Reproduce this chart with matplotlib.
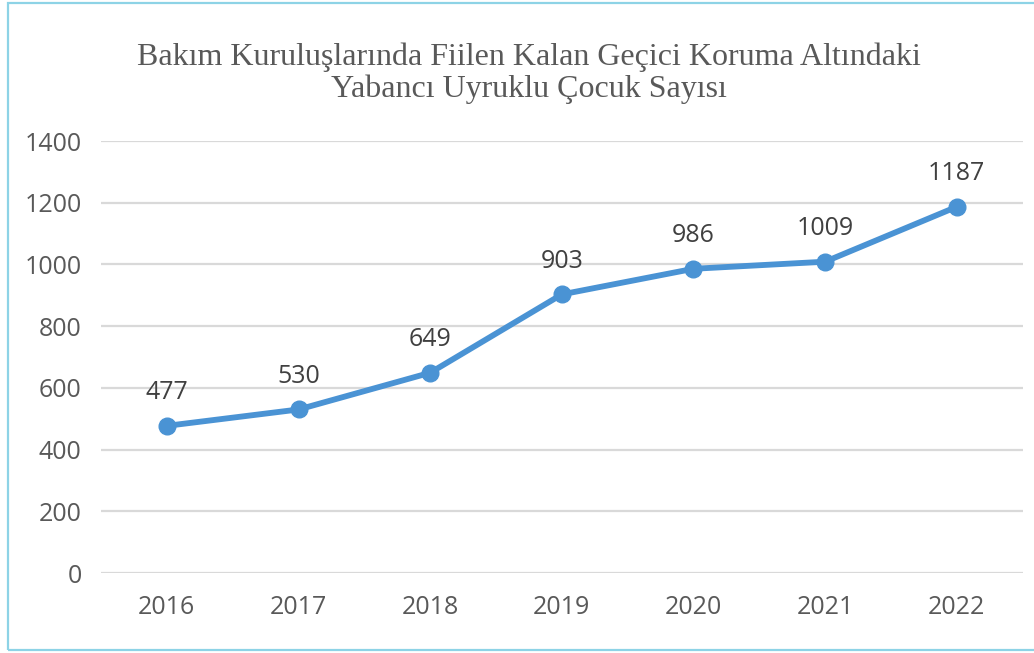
import matplotlib
matplotlib.use("Agg")
import matplotlib.pyplot as plt
from matplotlib.patches import Rectangle

# --- data ---
years = ["2016", "2017", "2018", "2019", "2020", "2021", "2022"]
counts = [477, 530, 649, 903, 986, 1009, 1187]
y_ticks = [0, 200, 400, 600, 800, 1000, 1200, 1400]

title = "Bakım Kuruluşlarında Fiilen Kalan Geçici Koruma Altındaki\nYabancı Uyruklu Çocuk Sayısı"

line_color = "#4a93d4"
grid_color = "#d9d9d9"
text_color = "#595959"

fig = plt.figure(figsize=(10.34, 6.53), dpi=100)
ax = fig.add_axes([0.0977, 0.1225, 0.8913, 0.6615])

x = list(range(len(years)))
ax.plot(x, counts, color=line_color, linewidth=4.2, marker="o",
        markersize=12, solid_capstyle="round", zorder=3)

for xi, v in zip(x, counts):
    ax.annotate(str(v), (xi, v), textcoords="offset points", xytext=(0, 24),
                ha="center", va="center", fontsize=18, color="#404040",
                family="Open Sans")

ax.set_xlim(-0.5, len(years) - 0.5)
ax.set_ylim(0, 1400)
ax.set_yticks(y_ticks)
ax.set_xticks(x)
ax.set_xticklabels(years)
ax.grid(axis="y", color=grid_color, linewidth=1.6)
ax.set_axisbelow(True)
for s in ax.spines.values():
    s.set_visible(False)
ax.tick_params(length=0, labelsize=18, labelcolor=text_color, pad=14)
ax.tick_params(axis="x", pad=16)
for lab in ax.get_xticklabels() + ax.get_yticklabels():
    lab.set_family("Open Sans")

fig.text(0.512, 0.888, title, ha="center", va="center", fontsize=23,
         family="Liberation Serif", color=text_color, linespacing=1.12)

# light blue frame around the chart
fig.patches.append(Rectangle((8 / 1034, 3 / 653), 1.05, 1 - 6 / 653,
                             transform=fig.transFigure, fill=False,
                             edgecolor="#8dd3e6", linewidth=1.6))

fig.savefig("out.png", dpi=100)
